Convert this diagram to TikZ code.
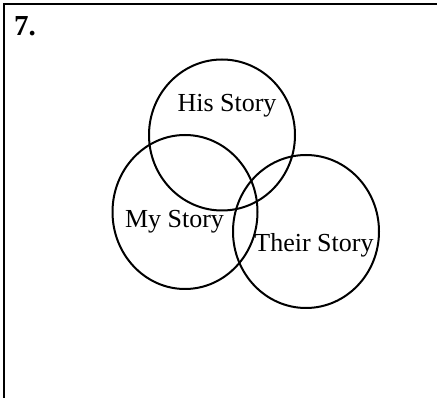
\documentclass[tikz,border=0pt]{standalone}
\usepackage{fontspec}
\setmainfont{Liberation Serif}
\usetikzlibrary{shapes.geometric}
\begin{document}
\begin{tikzpicture}[x=1pt,y=-1pt,
  ring/.style={draw, ellipse, line width=2pt, inner sep=0pt},
  lbl/.style={inner sep=0pt, anchor=base, font=\fontsize{26}{30}\selectfont},
  num/.style={inner sep=0pt, anchor=base west, font=\fontsize{29}{33}\selectfont\bfseries}]
\useasboundingbox (0,0) rectangle (437,398);
\draw[line width=2.5pt] (4,398) -- (4,4) -- (437,4);
\node[num] (n) at (14,35.5) {7.};
\node[ring, minimum width=146pt, minimum height=151pt] (his) at (222,135) {};
\node[ring, minimum width=145pt, minimum height=154pt] (my) at (185,212) {};
\node[ring, minimum width=146pt, minimum height=153pt] (their) at (306,231.5) {};
\node[lbl] (hist) at (227,111.7) {His Story};
\node[lbl] (myt) at (174.5,228) {My Story};
\node[lbl] (theirt) at (314,251.7) {Their Story};
\end{tikzpicture}
\end{document}
